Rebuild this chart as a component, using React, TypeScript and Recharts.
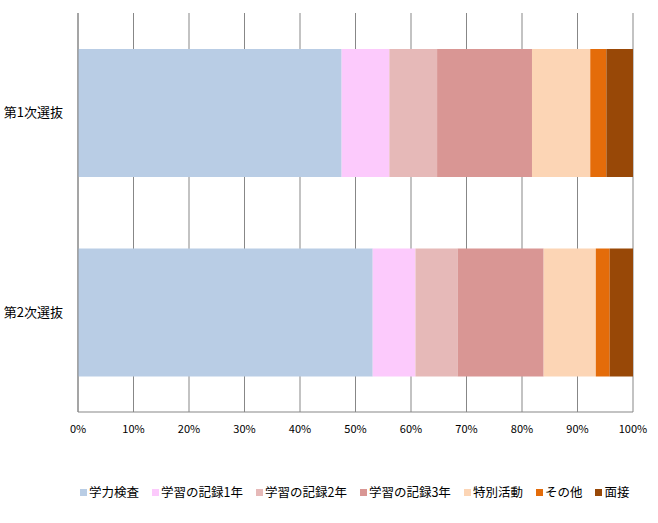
import React from "react";
import { BarChart, Bar, XAxis, YAxis, CartesianGrid, Legend } from "recharts";

const categories = ["第1次選抜", "第2次選抜"];
const seriesNames = ["学力検査", "学習の記録1年", "学習の記録2年", "学習の記録3年", "特別活動", "その他", "面接"];
const seriesColors = ["#B9CDE5", "#FCCAFC", "#E6B9B8", "#D99694", "#FCD5B5", "#E46C0A", "#984807"];

// percent of each stage, per category (same order as categories)
const gakuryoku = [47.5, 53.1];
const kiroku1 = [8.6, 7.7];
const kiroku2 = [8.6, 7.6];
const kiroku3 = [17.1, 15.5];
const tokubetsu = [10.5, 9.4];
const sonota = [2.9, 2.5];
const mensetsu = [4.8, 4.2];

const xTicks = [0, 0.1, 0.2, 0.3, 0.4, 0.5, 0.6, 0.7, 0.8, 0.9, 1];

const seriesValues = [gakuryoku, kiroku1, kiroku2, kiroku3, tokubetsu, sonota, mensetsu];
const keys = seriesNames.map((_n, i) => `s${i}`);

const data = categories.map((name, ci) => {
  const row: any = { name };
  seriesValues.forEach((vals, si) => {
    row[keys[si]] = vals[ci];
  });
  return row;
});

const FONT = "'Noto Sans CJK JP', 'DejaVu Sans', sans-serif";

const LegendContent = () => (
  <div
    style={{
      display: "flex",
      alignItems: "center",
      paddingLeft: 80,
      fontFamily: FONT,
      fontSize: 12.5,
      color: "#000",
      lineHeight: "18px",
      whiteSpace: "nowrap",
    }}
  >
    {seriesNames.map((n, i) => (
      <span key={n} style={{ display: "inline-flex", alignItems: "center", marginRight: 13 }}>
        <span style={{ width: 7, height: 7, background: seriesColors[i], marginRight: 2, display: "inline-block" }} />
        {n}
      </span>
    ))}
  </div>
);

export default function App() {
  return (
    <div style={{ width: 658, height: 523, background: "#fff", fontFamily: FONT }}>
      <style>{`body{margin:0}`}</style>
      <BarChart
        width={658}
        height={523}
        data={data}
        layout="vertical"
        stackOffset="expand"
        margin={{ top: 13, right: 25, left: 0, bottom: 22 }}
        barSize={128}
      >
        <CartesianGrid horizontal={false} stroke="#878787" strokeWidth={1} />
        <XAxis
          type="number"
          domain={[0, 1]}
          ticks={xTicks}
          tickFormatter={(v: number) => `${Math.round(v * 100)}%`}
          axisLine={{ stroke: "#878787" }}
          tickLine={false}
          tickMargin={7}
          height={71}
          interval={0}
          tick={{ fill: "#000", fontSize: 11, fontFamily: FONT }}
        />
        <YAxis
          type="category"
          dataKey="name"
          width={78}
          axisLine={{ stroke: "#878787" }}
          tickLine={false}
          tickMargin={9}
          tick={{ fill: "#000", fontSize: 13, fontFamily: FONT }}
        />
        <Legend verticalAlign="bottom" content={<LegendContent />} />
        {keys.map((k, i) => (
          <Bar key={k} dataKey={k} name={seriesNames[i]} stackId="a" fill={seriesColors[i]} isAnimationActive={false} />
        ))}
      </BarChart>
    </div>
  );
}
